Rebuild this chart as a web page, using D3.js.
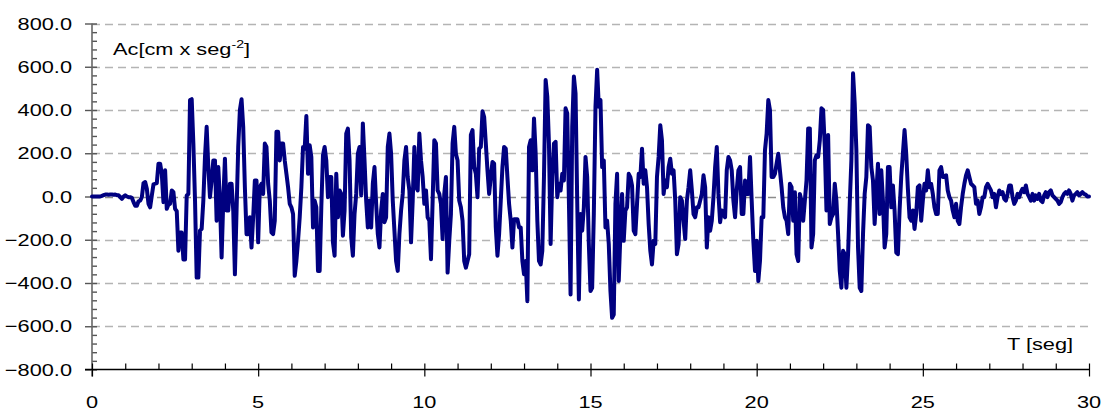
<!DOCTYPE html>
<html>
<head>
<meta charset="utf-8">
<script src="https://cdn.jsdelivr.net/npm/d3@7/dist/d3.min.js"></script>
<style>
  body { margin: 0; background: #fff; }
  text { font-family: "Liberation Sans", Arial, sans-serif; fill: #000; }
</style>
</head>
<body>
<svg id="chart" width="1109" height="414"></svg>
<script>
const dt = 0.05;

const acc_00_06 = [
  0,0,0,0,0,0,3,6,9,9,
  8,9,9,8,9,6,6,-3,-11,0,
  6,0,-3,-3,-6,-26,-43,-43,-22,-19,
  -3,62,67,36,-34,-50,5,56,59,62,
  152,152,105,-26,121,-57,-37,-34,28,20,
  -57,-68,-251,-167,-167,-291,-291,5,12,446,
  450,245,-19,-375,-375,-158,-150,-19,183,322,
  136,-3,74,167,167,-112,136,-19,-282,-19,
  175,-65,-65,59,59,-65,-360,-65,229,400,
  450,322,43,-174,-174,-96,-236,-96,74,74,
  -212,43,59,12,245,229,59,-19,-166,-174,
  -112,299,299,167,245,245,167,105,43,-34
];
const acc_06_12 = [
  -50,-81,-367,-298,-205,-96,43,229,221,372,
  105,237,183,-143,-19,-50,-344,-344,-50,191,
  229,167,-3,90,90,-212,-274,105,-96,28,
  12,-181,-65,291,314,167,-189,-274,-81,12,
  198,229,5,338,167,-19,-143,-19,-143,59,
  136,-34,-174,-236,-65,12,-119,-96,229,291,
  198,-19,-158,-298,-344,-174,-65,12,167,229,
  90,28,-212,-19,229,43,28,291,167,90,
  -34,28,-96,-112,-290,-19,260,245,28,12,
  -34,-197,12,90,-352,-205,-81,245,322,198,
  167,-19,-50,-112,-298,-329,-298,-267,285,307,
  136,105,-3,221,229,394,367,245,121,12
];
const acc_12_18 = [
  90,160,152,-143,-274,-174,-19,136,229,221,
  90,-34,-112,-236,-105,-105,-105,-143,-143,-298,
  -360,-298,-484,229,260,121,361,198,-112,-298,
  -314,-251,90,539,461,245,-220,90,245,253,
  -3,59,28,105,74,408,384,-19,-453,322,
  555,477,-19,-476,-81,-158,-50,183,90,-220,
  -437,-422,-81,415,586,415,446,136,167,-143,
  -112,-220,-437,-561,-546,-34,105,-391,-174,12,
  -205,-65,-50,105,90,50,-158,-174,-34,105,
  90,221,59,121,43,-127,-251,-314,-205,-220,
  90,183,330,260,12,74,43,136,175,105,
  121,-19,-267,-220,-3,-19,-112,-197,-19,43
];
const acc_18_24 = [
  121,28,-81,-96,-50,-50,-19,12,98,43,
  -236,-96,-158,-112,-3,136,229,12,-119,-65,
  -81,-96,121,183,167,121,-19,-96,28,121,
  136,-81,-81,74,12,12,183,-19,-205,-344,
  -205,-391,-298,-96,-96,214,291,446,400,90,
  90,105,152,198,121,43,-50,-96,-112,-174,
  59,43,-112,20,-267,-298,12,-19,-112,-19,
  74,315,315,-236,-174,167,191,183,260,408,
  400,229,-65,284,-127,-96,-81,59,-19,-174,
  -344,-422,-251,-267,-422,-267,-34,167,570,431,
  214,-236,-422,-437,-174,12,90,330,322,136,
  74,-127,12,152,-81,121,-19,-236,-174,136
];
const acc_24_30 = [
  136,-50,51,-65,-259,-267,-65,90,198,307,
  198,36,-96,-112,-65,-150,-81,43,51,-112,
  -19,59,28,121,43,59,12,-50,-81,-81,
  121,136,90,90,98,28,-3,-19,-65,-96,
  -34,-112,-127,-50,12,59,98,121,90,59,
  51,43,-34,-19,-81,-50,-3,-3,43,59,
  43,28,-3,12,-50,-3,28,12,20,-11,
  -19,12,51,51,-3,-34,-19,12,-3,20,
  36,20,51,12,-3,-19,12,-19,5,-11,
  12,-19,-26,5,20,-3,20,28,5,-3,
  -11,-19,-34,-26,-3,12,20,12,28,12,
  -19,5,12,20,5,12,20,12,9,0,
  0
];

const y_ticks = [-800, -600, -400, -200, 0, 200, 400, 600, 800];
const y_minor = d3.range(-800, 801, 40);
const x_ticks = [0, 5, 10, 15, 20, 25, 30];
const x_minor = d3.range(0, 31, 1);
const y_title = "Ac[cm x seg";
const y_title_sup = "-2";
const x_title = "T [seg]";

// ---- layout
const svg = d3.select("#chart");
const x = d3.scaleLinear().domain([0, 30]).range([92, 1089]);
const y = d3.scaleLinear().domain([-800, 800]).range([369.5, 23.5]);
const stretch = 1.28; // the source text is drawn wider than normal

const acc = [].concat(acc_00_06, acc_06_12, acc_12_18, acc_18_24, acc_24_30);
const points = acc.map(function(v, i) { return {t: i * dt, v: v}; });

// gridlines
svg.append("g").selectAll("line")
  .data(y_ticks.filter(function(d) { return d > -800; }))
  .join("line")
  .attr("x1", x(0)).attr("x2", x(30))
  .attr("y1", function(d) { return Math.round(y(d)) + 0.5; })
  .attr("y2", function(d) { return Math.round(y(d)) + 0.5; })
  .attr("stroke", function(d) { return d === 0 ? "#8c8c8c" : "#b4b4b4"; })
  .attr("stroke-width", 1.3)
  .attr("stroke-dasharray", "8,5");

// y axis
const yg = svg.append("g").attr("transform", "translate(" + x(0) + ",0)");
yg.append("g").call(d3.axisRight(y).tickValues(y_minor).tickSize(5).tickSizeOuter(0).tickFormat(""));
yg.append("g").call(d3.axisLeft(y).tickValues(y_ticks).tickSize(7).tickSizeOuter(0).tickFormat(""));
yg.selectAll(".domain").remove();
yg.selectAll("line").attr("stroke", "#555").attr("stroke-width", 1.4);
yg.append("line").attr("x1", 0).attr("x2", 0).attr("y1", y(800)).attr("y2", y(-800) + 7)
  .attr("stroke", "#666").attr("stroke-width", 1.6);

// x axis
const xg = svg.append("g").attr("transform", "translate(0," + y(-800) + ")");
xg.append("g").call(d3.axisTop(x).tickValues(x_minor).tickSize(6).tickSizeOuter(0).tickFormat(""));
xg.append("g").call(d3.axisBottom(x).tickValues(x_ticks).tickSize(7).tickSizeOuter(0).tickFormat(""));
xg.selectAll(".domain").remove();
xg.selectAll("line").attr("stroke", "#000").attr("stroke-width", 1.2);
xg.append("line").attr("x1", x(0) - 7).attr("x2", x(30) + 1).attr("y1", 0).attr("y2", 0)
  .attr("stroke", "#000").attr("stroke-width", 1.6);

// tick labels
svg.append("g").selectAll("text").data(y_ticks).join("text")
  .attr("transform", function(d) { return "translate(72," + y(d) + ") scale(" + stretch + ",1)"; })
  .attr("dy", "0.36em")
  .attr("text-anchor", "end")
  .style("font-size", "17px")
  .text(d3.format(".1f"));

svg.append("g").selectAll("text").data(x_ticks).join("text")
  .attr("transform", function(d) { return "translate(" + x(d) + ",408) scale(" + stretch + ",1)"; })
  .attr("text-anchor", "middle")
  .style("font-size", "17px")
  .text(function(d) { return d; });

// axis titles
const yt = svg.append("text")
  .attr("transform", "translate(113,55) scale(" + stretch + ",1)")
  .style("font-size", "17px");
yt.append("tspan").text(y_title);
yt.append("tspan").attr("dy", -7).style("font-size", "11px").text(y_title_sup);
yt.append("tspan").attr("dy", 7).text("]");

svg.append("text")
  .attr("transform", "translate(1007,350) scale(" + stretch + ",1)")
  .style("font-size", "17px")
  .text(x_title);

// the record
const line = d3.line()
  .x(function(d) { return x(d.t); })
  .y(function(d) { return y(d.v); });

svg.append("path")
  .datum(points)
  .attr("d", line)
  .attr("fill", "none")
  .attr("stroke", "#000080")
  .attr("stroke-width", 4)
  .attr("stroke-linejoin", "round")
  .attr("stroke-linecap", "round");
</script>
</body>
</html>
